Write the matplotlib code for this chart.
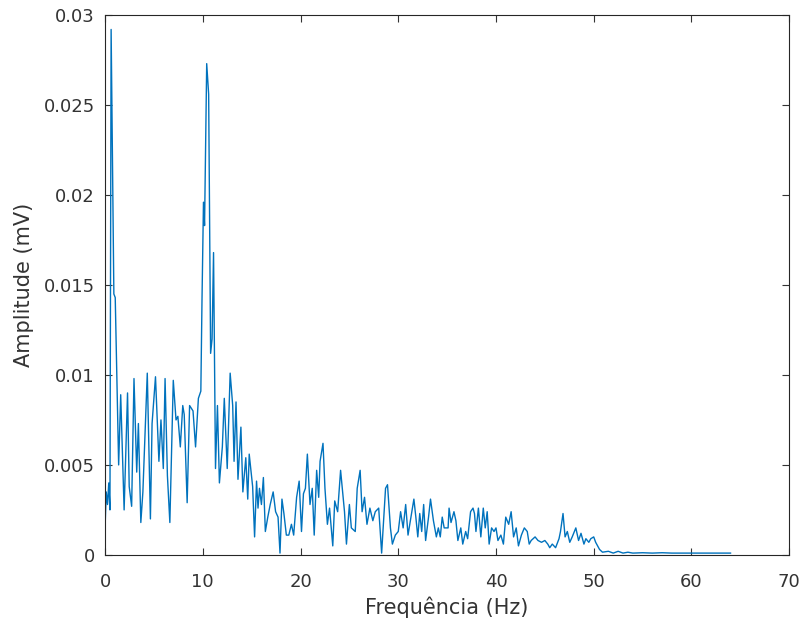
import numpy as np
import matplotlib
matplotlib.use('Agg')
import matplotlib.pyplot as plt
from matplotlib.ticker import FuncFormatter

plt.rcParams['font.family'] = ['DejaVu Sans']

# espectro de amplitude (Hz, mV)
freq = [0.0, 0.12, 0.25, 0.38, 0.5, 0.62, 0.9, 1.04, 1.2, 1.39, 1.6, 1.95, 2.3, 2.47, 2.72,
        2.96, 3.24, 3.41, 3.66, 3.87, 4.32, 4.64, 4.81, 5.16, 5.51, 5.72, 5.96, 6.14, 6.38,
        6.63, 6.98, 7.26, 7.45, 7.7, 7.95, 8.1, 8.4, 8.65, 9.0, 9.26, 9.55, 9.8, 9.92,
        10.07, 10.18, 10.4, 10.6, 10.8, 10.95, 11.1, 11.3, 11.5, 11.7, 12.0, 12.2, 12.5,
        12.8, 13.06, 13.2, 13.4, 13.6, 13.9, 14.1, 14.4, 14.6, 14.75, 15.1, 15.3, 15.5,
        15.65, 15.8, 16.0, 16.2, 16.4, 16.65, 16.9, 17.2, 17.45, 17.7, 17.9, 18.1, 18.3,
        18.55, 18.8, 19.07, 19.3, 19.6, 19.86, 20.1, 20.3, 20.5, 20.7, 20.97, 21.2, 21.4,
        21.65, 21.86, 22.0, 22.3, 22.5, 22.75, 22.97, 23.3, 23.5, 23.8, 24.1, 24.5, 24.7,
        25.0, 25.2, 25.6, 25.8, 26.1, 26.3, 26.55, 26.8, 27.1, 27.4, 27.65, 28.0, 28.3,
        28.7, 28.9, 29.2, 29.4, 29.7, 30.0, 30.24, 30.5, 30.76, 31.0, 31.3, 31.6, 31.8,
        32.0, 32.2, 32.4, 32.6, 32.8, 33.1, 33.3, 33.6, 33.9, 34.1, 34.3, 34.5, 34.7,
        35.1, 35.2, 35.4, 35.7, 35.9, 36.1, 36.4, 36.6, 36.9, 37.1, 37.4, 37.65, 37.8,
        37.95, 38.2, 38.45, 38.7, 38.9, 39.1, 39.3, 39.55, 39.8, 40.0, 40.2, 40.5, 40.76,
        41.0, 41.3, 41.55, 41.8, 42.07, 42.3, 42.6, 42.9, 43.2, 43.4, 43.6, 44.0, 44.3,
        44.66, 45.0, 45.3, 45.5, 45.76, 46.1, 46.45, 46.6, 46.86, 47.07, 47.3, 47.55,
        47.8, 48.17, 48.45, 48.7, 49.0, 49.2, 49.5, 49.7, 50.0, 50.2, 50.6, 50.9, 51.5,
        52.0, 52.5, 53.0, 53.5, 54.0, 55.0, 56.0, 57.0, 58.0, 59.0, 60.0, 61.0, 62.0,
        63.0, 64.0]
amp = [0.0015, 0.0035, 0.0028, 0.0040, 0.0025, 0.0292, 0.0145, 0.0143, 0.0100, 0.0050,
       0.0089, 0.0025, 0.0090, 0.0038, 0.0027, 0.0098, 0.0046, 0.0073, 0.0018, 0.0035,
       0.0101, 0.0020, 0.0073, 0.0099, 0.0052, 0.0075, 0.0048, 0.0098, 0.0044, 0.0018,
       0.0097, 0.0075, 0.0077, 0.0060, 0.0083, 0.0078, 0.0029, 0.0083, 0.0080, 0.0060,
       0.0087, 0.0091, 0.0142, 0.0196, 0.0183, 0.0273, 0.0256, 0.0112, 0.0120, 0.0168,
       0.0048, 0.0083, 0.0040, 0.0060, 0.0087, 0.0048, 0.0101, 0.0083, 0.0052, 0.0085,
       0.0042, 0.0071, 0.0035, 0.0054, 0.0031, 0.0056, 0.0038, 0.0010, 0.0041, 0.0026,
       0.0037, 0.0028, 0.0043, 0.0013, 0.0021, 0.0028, 0.0035, 0.0024, 0.0021, 0.0001,
       0.0031, 0.0023, 0.0011, 0.0011, 0.0017, 0.0011, 0.0032, 0.0041, 0.0013, 0.0034,
       0.0037, 0.0056, 0.0028, 0.0037, 0.0011, 0.0047, 0.0032, 0.0052, 0.0062, 0.0037,
       0.0017, 0.0026, 0.0005, 0.0030, 0.0024, 0.0047, 0.0024, 0.0006, 0.0028, 0.0015,
       0.0013, 0.0037, 0.0047, 0.0024, 0.0032, 0.0017, 0.0026, 0.0019, 0.0024, 0.0026,
       0.0001, 0.0037, 0.0039, 0.0015, 0.0006, 0.0011, 0.0013, 0.0024, 0.0015, 0.0028,
       0.0011, 0.0021, 0.0031, 0.0021, 0.0010, 0.0023, 0.0013, 0.0028, 0.0008, 0.0021,
       0.0031, 0.0019, 0.0010, 0.0015, 0.0010, 0.0021, 0.0015, 0.0015, 0.0026, 0.0018,
       0.0024, 0.0019, 0.0008, 0.0015, 0.0006, 0.0013, 0.0009, 0.0024, 0.0026, 0.0023,
       0.0013, 0.0026, 0.0010, 0.0026, 0.0015, 0.0024, 0.0006, 0.0015, 0.0013, 0.0015,
       0.0008, 0.0011, 0.0006, 0.0021, 0.0017, 0.0024, 0.0010, 0.0015, 0.0005, 0.0011,
       0.0015, 0.0013, 0.0006, 0.0008, 0.0010, 0.0008, 0.0007, 0.0008, 0.0006, 0.0004,
       0.0006, 0.0004, 0.0009, 0.0013, 0.0023, 0.0010, 0.0013, 0.0007, 0.0010, 0.0015,
       0.0008, 0.0012, 0.0006, 0.0009, 0.0007, 0.0009, 0.0010, 0.0007, 0.0003, 0.00015,
       0.0002, 0.0001, 0.0002, 0.0001, 0.00015, 0.0001, 0.00012, 0.0001, 0.00012, 0.0001,
       0.0001, 0.0001, 0.0001, 0.0001, 0.0001, 0.0001]

xticks = [0, 10, 20, 30, 40, 50, 60, 70]
yticks = [0, 0.005, 0.01, 0.015, 0.02, 0.025, 0.03]

fig = plt.figure(figsize=(8.02, 6.27), dpi=100)
ax = fig.add_axes([0.131, 0.115, 0.853, 0.861])

ax.plot(freq, amp, color='#0072BD', linewidth=1.0)

ax.set_xlim(0, 70)
ax.set_ylim(0, 0.03)
ax.set_xticks(xticks)
ax.set_yticks(yticks)
ax.yaxis.set_major_formatter(FuncFormatter(lambda v, p: '%g' % round(v, 4)))

# estilo MATLAB: caixa fechada, ticks para dentro
ax.tick_params(direction='in', top=True, right=True, length=5, width=0.8,
               labelsize=13, colors='#333333')
ax.tick_params(axis='x', pad=13)
ax.tick_params(axis='y', pad=7.5)
for s in ax.spines.values():
    s.set_color('#262626')
    s.set_linewidth(0.8)

ax.set_xlabel('Frequência (Hz)', fontsize=15, color='#333333', labelpad=4)
ax.set_ylabel('Amplitude (mV)', fontsize=15, color='#333333', labelpad=7)

fig.savefig('out.png', dpi=100)
